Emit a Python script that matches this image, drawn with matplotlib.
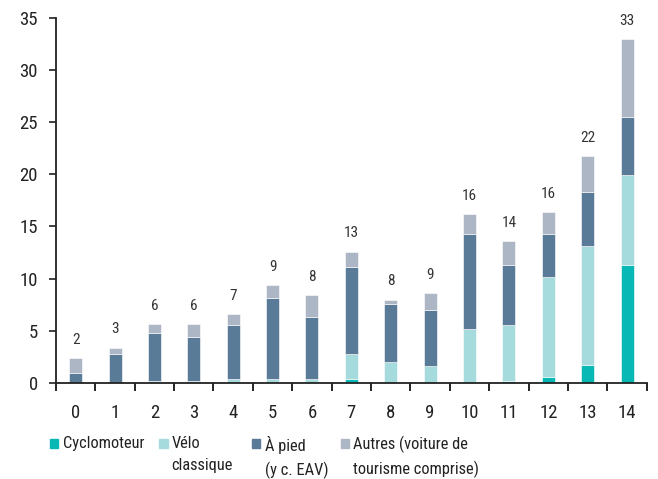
import numpy as np
import matplotlib
matplotlib.use("Agg")
import matplotlib.pyplot as plt
from matplotlib.patches import Rectangle

plt.rcParams["font.family"] = ["Liberation Sans Narrow", "Roboto Condensed", "DejaVu Sans"]

categories = [str(i) for i in range(15)]
cyclomoteur = [0, 0, 0, 0, 0, 0, 0, 0.35, 0, 0, 0, 0.16, 0.54, 1.70, 11.34]
velo = [0, 0, 0.15, 0.15, 0.38, 0.38, 0.38, 2.40, 1.99, 1.57, 5.16, 5.41, 9.64, 11.46, 8.64]
a_pied = [0.96, 2.79, 4.65, 4.20, 5.19, 7.79, 5.96, 8.39, 5.60, 5.41, 9.15, 5.77, 4.13, 5.19, 5.57]
autres = [1.38, 0.57, 0.80, 1.25, 1.03, 1.21, 2.05, 1.44, 0.38, 1.60, 1.86, 2.24, 2.08, 3.42, 7.43]
totals = [2, 3, 6, 6, 7, 9, 8, 13, 8, 9, 16, 14, 16, 22, 33]

series = [
    ("Cyclomoteur", cyclomoteur, "#08b8b5"),
    ("Vélo\nclassique", velo, "#a6dbde"),
    ("À pied\n(y c. EAV)", a_pied, "#5a7b97"),
    ("Autres (voiture de\ntourisme comprise)", autres, "#acb6c4"),
]

fig = plt.figure(figsize=(6.58, 4.79), dpi=100)
ax = fig.add_axes([0.085, 0.201, 0.898, 0.761])

x = np.arange(len(categories))
bottom = np.zeros(len(categories))
for label, vals, color in series:
    vals = np.array(vals)
    ax.bar(x, vals, width=0.33, bottom=bottom, color=color,
           edgecolor="white", linewidth=0.4)
    bottom += vals

for xi, top, tot in zip(x, bottom, totals):
    ax.text(xi, top + 1.1, str(tot), ha="center", va="bottom", fontsize=11, color="#333333")

ax.set_xlim(-0.5, 14.5)
ax.set_ylim(0, 35)
ax.set_yticks(range(0, 36, 5))
ax.set_xticks(np.arange(-0.5, 15, 1.0))
ax.set_xticklabels([])
ax.set_xticks(x, minor=True)
ax.set_xticklabels(categories, minor=True)
ax.tick_params(axis="x", which="minor", length=0, pad=15, labelsize=13.5, colors="#222222")
ax.tick_params(axis="x", which="major", length=6, width=1.2, direction="out")
ax.tick_params(axis="y", length=5, width=1.2, labelsize=13.5, pad=8, colors="#222222")
for side in ["top", "right"]:
    ax.spines[side].set_visible(False)
for side in ["left", "bottom"]:
    ax.spines[side].set_linewidth(1.3)
    ax.spines[side].set_color("#222222")

# legend drawn by hand so that the box sits level with the first line
leg_x = [0.076, 0.242, 0.383, 0.518]
for (label, vals, color), lx in zip(series, leg_x):
    fig.add_artist(Rectangle((lx, 0.064), 0.0126, 0.019,
                             transform=fig.transFigure, color=color))
    fig.text(lx + 0.019, 0.090, label, ha="left", va="top", fontsize=11.8,
             color="#222222", linespacing=1.6)

fig.savefig("out.png", dpi=100)
